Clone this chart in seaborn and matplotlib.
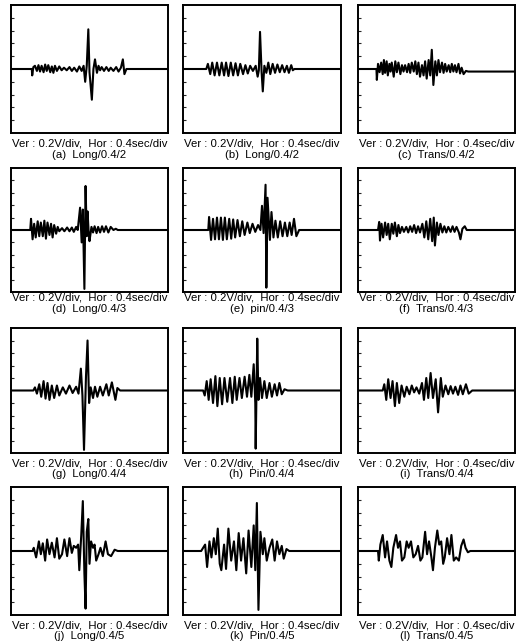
"""
Oscilloscope traces, 12 panels (Long / Pin / Trans, 0.4/2 .. 0.4/5).
Values are read off the scanned figure: time in sec, amplitude in V.
"""

import matplotlib
matplotlib.use("Agg")
import matplotlib.pyplot as plt
import seaborn as sns

W_PX, H_PX = 521, 643
DPI = 100

# ---- traces: (time [s], voltage [V]) at the turning points -------------------
a_t = [0, 0.53, 0.54, 0.57, 0.61, 0.66, 0.70, 0.74, 0.78, 0.83, 0.87, 0.91, 0.95, 1.00, 1.04, 1.08,
       1.12, 1.17, 1.23, 1.29, 1.35, 1.42, 1.49, 1.55, 1.61, 1.68, 1.74, 1.80, 1.85, 1.89, 1.93,
       1.97, 2.00, 2.06, 2.10, 2.14, 2.19, 2.23, 2.27, 2.31, 2.37, 2.43, 2.49, 2.54, 2.61, 2.68,
       2.74, 2.80, 2.85, 2.89, 2.94, 4.0]
a_v = [0, 0, -0.10, 0.03, 0.05, -0.03, 0.06, -0.04, 0.05, -0.05, 0.07, -0.03, 0.06, -0.05, 0.04, -0.06,
       0.05, -0.03, 0.04, -0.02, 0.02, -0.02, 0.03, -0.03, 0.02, -0.04, 0.04, -0.03, 0.05, -0.20, 0.05,
       0.62, -0.05, -0.48, 0.0, 0.15, -0.06, 0.05, -0.02, 0.03, -0.03, 0.03, -0.03, 0.02, -0.03, 0.03,
       -0.04, 0.02, 0.15, -0.08, 0, 0]

b_t = [0, 0.59, 0.63, 0.69, 0.74, 0.80, 0.86, 0.92, 0.98, 1.04, 1.09, 1.15, 1.21, 1.27, 1.33, 1.39,
       1.45, 1.52, 1.58, 1.64, 1.70, 1.77, 1.84, 1.89, 1.92, 1.95, 1.99, 2.02, 2.06, 2.11, 2.16, 2.21,
       2.27, 2.33, 2.39, 2.45, 2.51, 2.57, 2.63, 2.68, 2.74, 2.78, 2.82, 4.0]
b_v = [0, 0, 0.08, -0.08, 0.10, -0.10, 0.10, -0.10, 0.10, -0.10, 0.10, -0.11, 0.10, -0.10, 0.09, -0.10,
       0.08, -0.08, 0.06, -0.07, 0.05, -0.03, 0.05, -0.12, -0.02, 0.58, -0.05, -0.35, 0.05, -0.06, 0.10,
       -0.08, 0.08, -0.06, 0.07, -0.05, 0.06, -0.05, 0.05, -0.06, 0.06, -0.02, 0, 0]

c_t = [0, 0.47, 0.48, 0.51, 0.55, 0.59, 0.63, 0.66, 0.69, 0.73, 0.76, 0.80, 0.83, 0.86, 0.91, 0.95,
       0.99, 1.03, 1.08, 1.12, 1.16, 1.20, 1.25, 1.29, 1.33, 1.37, 1.42, 1.46, 1.50, 1.54, 1.58, 1.63,
       1.67, 1.71, 1.75, 1.80, 1.84, 1.88, 1.92, 1.97, 2.01, 2.05, 2.09, 2.14, 2.18, 2.22, 2.26, 2.31,
       2.35, 2.39, 2.43, 2.47, 2.51, 2.56, 2.60, 2.64, 2.69, 2.75, 2.81, 4.0]
c_v = [0, 0, -0.17, 0.08, -0.05, 0.10, -0.08, 0.14, -0.06, 0.12, -0.10, 0.08, -0.04, 0.10, -0.12, 0.12,
       -0.05, 0.10, -0.08, 0.06, -0.04, 0.06, -0.05, 0.08, -0.06, 0.10, -0.04, 0.12, -0.08, 0.10, -0.12,
       0.06, -0.10, 0.12, -0.15, 0.14, -0.10, 0.30, -0.25, 0.12, -0.10, 0.14, -0.05, 0.10, -0.06, 0.08,
       -0.04, 0.06, -0.05, 0.08, -0.04, 0.06, -0.05, 0.08, -0.07, 0.02, -0.08, -0.03, -0.04, -0.04]

d_t = [0, 0.49, 0.51, 0.55, 0.59, 0.63, 0.68, 0.72, 0.76, 0.81, 0.85, 0.89, 0.93, 0.98, 1.02, 1.06,
       1.10, 1.15, 1.19, 1.23, 1.30, 1.36, 1.43, 1.49, 1.55, 1.60, 1.66, 1.70, 1.76, 1.80, 1.83, 1.87,
       1.90, 1.93, 1.95, 1.98, 2.00, 2.05, 2.09, 2.13, 2.18, 2.22, 2.27, 2.32, 2.37, 2.42, 2.48, 2.54,
       2.61, 2.67, 2.72, 4.0]
d_v = [0, 0, 0.18, -0.15, 0.10, -0.12, 0.14, -0.10, 0.12, -0.10, 0.15, -0.14, 0.12, -0.08, 0.10, -0.12,
       0.08, -0.06, 0.05, -0.02, 0.03, -0.02, 0.04, -0.02, 0.04, -0.03, 0.05, 0.0, 0.36, -0.20, 0.33, -0.95,
       0.71, -0.10, 0.30, -0.05, -0.18, 0.05, -0.04, 0.06, -0.05, 0.05, -0.04, 0.06, -0.03, 0.06, -0.04, 0.05,
       0.0, 0.02, 0, 0]

e_t = [0, 0.64, 0.66, 0.71, 0.76, 0.81, 0.86, 0.91, 0.96, 1.01, 1.06, 1.11, 1.17, 1.22, 1.27, 1.32,
       1.38, 1.44, 1.50, 1.56, 1.63, 1.69, 1.76, 1.83, 1.90, 1.96, 2.00, 2.04, 2.09, 2.11, 2.14, 2.20,
       2.24, 2.29, 2.34, 2.40, 2.46, 2.52, 2.58, 2.64, 2.70, 2.75, 2.81, 2.87, 2.94, 4.0]
e_v = [0, 0, 0.21, -0.16, 0.18, -0.15, 0.20, -0.15, 0.20, -0.16, 0.20, -0.15, 0.18, -0.14, 0.17, -0.12,
       0.16, -0.10, 0.14, -0.08, 0.12, -0.05, 0.10, -0.03, 0.08, 0.0, 0.39, -0.05, 0.73, -0.93, 0.52, -0.16,
       0.29, -0.12, 0.15, -0.12, 0.14, -0.10, 0.12, -0.10, 0.12, -0.08, 0.18, -0.10, 0, 0]

f_t = [0, 0.51, 0.54, 0.56, 0.60, 0.64, 0.69, 0.73, 0.77, 0.81, 0.86, 0.90, 0.94, 0.99, 1.03, 1.07,
       1.12, 1.17, 1.23, 1.28, 1.33, 1.38, 1.43, 1.48, 1.53, 1.58, 1.64, 1.69, 1.74, 1.79, 1.84, 1.89,
       1.93, 1.96, 2.01, 2.05, 2.10, 2.15, 2.20, 2.25, 2.30, 2.36, 2.41, 2.46, 2.51, 2.57, 2.61, 2.66,
       2.72, 2.77, 4.0]
f_v = [0, 0, 0.13, -0.17, 0.10, -0.12, 0.12, -0.08, 0.10, -0.15, 0.10, -0.06, 0.12, -0.10, 0.08, -0.05,
       0.05, -0.03, 0.05, -0.04, 0.06, -0.03, 0.08, -0.05, 0.06, -0.04, 0.10, -0.12, 0.14, -0.15, 0.18, -0.18,
       0.20, -0.25, 0.12, -0.08, 0.10, -0.04, 0.06, -0.04, 0.05, -0.03, 0.06, -0.03, 0.05, -0.04, -0.15, 0.02,
       0.06, 0.0, 0]

g_t = [0, 0.57, 0.61, 0.66, 0.72, 0.77, 0.83, 0.88, 0.93, 0.98, 1.04, 1.10, 1.17, 1.23, 1.32, 1.40,
       1.49, 1.57, 1.66, 1.72, 1.78, 1.82, 1.86, 1.91, 1.95, 1.99, 2.03, 2.09, 2.14, 2.20, 2.27, 2.34,
       2.43, 2.49, 2.57, 2.66, 2.71, 2.78, 4.0]
g_v = [0, 0, 0.05, -0.05, 0.10, -0.10, 0.15, -0.13, 0.12, -0.15, 0.08, -0.12, 0.08, -0.08, 0.05, -0.05,
       0.08, -0.04, 0.06, -0.05, 0.35, -0.08, -0.95, 0.22, 0.80, -0.20, 0.05, -0.12, 0.06, -0.10, 0.06, -0.08,
       0.10, -0.08, 0.13, -0.15, 0.04, 0, 0]

h_t = [0, 0.51, 0.55, 0.60, 0.65, 0.70, 0.76, 0.82, 0.87, 0.93, 0.99, 1.05, 1.12, 1.19, 1.25, 1.31,
       1.36, 1.43, 1.49, 1.56, 1.62, 1.68, 1.73, 1.79, 1.83, 1.84, 1.88, 1.91, 1.95, 2.00, 2.06, 2.12,
       2.19, 2.25, 2.32, 2.38, 2.44, 2.50, 2.57, 2.65, 4.0]
h_v = [0, 0, -0.08, 0.15, -0.15, 0.18, -0.20, 0.23, -0.25, 0.20, -0.22, 0.20, -0.18, 0.20, -0.20, 0.22,
       -0.15, 0.20, -0.12, 0.22, -0.10, 0.25, -0.10, 0.42, -0.20, -0.93, 0.83, -0.15, 0.20, -0.12, 0.15, -0.12,
       0.12, -0.10, 0.10, -0.08, 0.12, -0.06, 0.02, 0, 0]

i_t = [0, 0.63, 0.67, 0.72, 0.77, 0.83, 0.88, 0.94, 0.99, 1.05, 1.11, 1.18, 1.24, 1.31, 1.37, 1.43,
       1.49, 1.56, 1.63, 1.68, 1.74, 1.79, 1.85, 1.91, 1.98, 2.04, 2.11, 2.16, 2.23, 2.30, 2.36, 2.42,
       2.48, 2.55, 2.61, 2.67, 2.75, 2.82, 2.91, 4.0]
i_v = [0, 0, 0.10, -0.15, 0.18, -0.12, 0.15, -0.25, 0.12, -0.20, 0.08, -0.10, 0.06, -0.06, 0.08, -0.03,
       0.05, -0.05, 0.12, -0.15, 0.20, -0.12, 0.28, -0.12, 0.18, -0.35, 0.20, -0.10, 0.08, -0.06, 0.07, -0.05,
       0.06, -0.07, 0.08, -0.06, 0.10, -0.05, 0, 0]

j_t = [0, 0.55, 0.58, 0.64, 0.71, 0.76, 0.81, 0.87, 0.92, 0.98, 1.04, 1.11, 1.17, 1.23, 1.30, 1.36,
       1.43, 1.49, 1.55, 1.60, 1.66, 1.71, 1.74, 1.79, 1.83, 1.87, 1.90, 1.93, 1.97, 2.00, 2.04, 2.09,
       2.13, 2.17, 2.23, 2.28, 2.34, 2.41, 2.47, 2.55, 2.64, 2.72, 4.0]
j_v = [0, 0, 0.05, -0.10, 0.15, -0.05, 0.12, -0.15, 0.18, -0.05, 0.13, -0.10, 0.20, -0.12, -0.05, 0.18,
       -0.08, 0.20, -0.03, 0.08, 0.05, 0.10, -0.30, 0.25, 0.78, -0.35, -0.90, 0.30, 0.50, -0.20, 0.15, 0.05,
       0.10, -0.15, -0.05, 0.05, -0.08, 0.15, -0.05, -0.08, 0.02, 0, 0]

k_t = [0, 0.46, 0.51, 0.56, 0.61, 0.67, 0.72, 0.78, 0.83, 0.88, 0.93, 0.97, 1.04, 1.09, 1.15, 1.22,
       1.29, 1.35, 1.41, 1.47, 1.53, 1.60, 1.66, 1.73, 1.79, 1.83, 1.87, 1.91, 1.96, 2.02, 2.06, 2.12,
       2.19, 2.26, 2.32, 2.38, 2.44, 2.50, 2.55, 2.62, 2.69, 4.0]
k_v = [0, 0, 0.05, 0.10, -0.25, 0.15, -0.10, 0.20, -0.05, 0.35, -0.20, -0.30, 0.10, -0.28, 0.35, -0.15,
       0.15, -0.30, 0.28, -0.15, 0.20, -0.35, 0.32, -0.25, 0.40, -0.30, 0.75, -0.92, 0.30, -0.05, 0.20, -0.15,
       0.05, 0.18, -0.15, 0.15, -0.05, 0.08, -0.12, 0.03, 0, 0]

l_t = [0, 0.51, 0.53, 0.57, 0.63, 0.69, 0.74, 0.80, 0.85, 0.90, 0.97, 1.02, 1.07, 1.12, 1.18, 1.24,
       1.29, 1.35, 1.41, 1.47, 1.53, 1.59, 1.64, 1.71, 1.76, 1.81, 1.87, 1.91, 1.96, 2.02, 2.07, 2.12,
       2.17, 2.21, 2.27, 2.33, 2.38, 2.44, 2.50, 2.57, 2.63, 2.69, 2.74, 2.80, 2.86, 4.0]
l_v = [0, 0, -0.15, 0.10, 0.25, -0.10, 0.15, -0.15, -0.25, 0.05, 0.25, 0.05, 0.15, -0.15, -0.10, 0.15,
       0.05, 0.15, -0.10, -0.05, 0.08, -0.15, -0.10, 0.30, -0.05, 0.15, -0.10, -0.30, 0.05, 0.32, 0.10, 0.15,
       -0.20, -0.10, 0.20, -0.05, 0.25, -0.15, -0.10, -0.15, 0.08, 0.18, 0.05, -0.02, 0, 0]

LABELS = ["(a)  Long/0.4/2", "(b)  Long/0.4/2", "(c)  Trans/0.4/2",
          "(d)  Long/0.4/3", "(e)  pin/0.4/3", "(f)  Trans/0.4/3",
          "(g)  Long/0.4/4", "(h)  Pin/0.4/4", "(i)  Trans/0.4/4",
          "(j)  Long/0.4/5", "(k)  Pin/0.4/5", "(l)  Trans/0.4/5"]
TRACES = [(a_t, a_v), (b_t, b_v), (c_t, c_v),
          (d_t, d_v), (e_t, e_v), (f_t, f_v),
          (g_t, g_v), (h_t, h_v), (i_t, i_v),
          (j_t, j_v), (k_t, k_v), (l_t, l_v)]
SCALE_TXT = "Ver : 0.2V/div,  Hor : 0.4sec/div"

# panel boxes in pixels (left, top, width, height)
COL_X = [11, 183, 358]
COL_W = [157, 158, 157]
ROW_Y = [5, 168, 328, 487]
ROW_H = [128, 124, 125, 128]
CAP_Y = [(143, 155), (298, 309), (464, 474), (625, 636)]

sns.set_style("white")
plt.rcParams["font.family"] = ["Liberation Sans", "DejaVu Sans"]

fig = plt.figure(figsize=(W_PX / DPI, H_PX / DPI), dpi=DPI)

for n, ((t, v), lab) in enumerate(zip(TRACES, LABELS)):
    r, c = divmod(n, 3)
    x0, y0, w, h = COL_X[c], ROW_Y[r], COL_W[c], ROW_H[r]
    ax = fig.add_axes([x0 / W_PX, 1 - (y0 + h) / H_PX, w / W_PX, h / H_PX])
    sns.lineplot(x=t, y=v, ax=ax, color="black", lw=1.5, estimator=None, sort=False)
    ax.set_xlim(0, 4.0)
    ax.set_ylim(-1.0, 1.0)
    ax.set_xticks([])
    ax.set_yticks([-0.8, -0.6, -0.4, -0.2, 0.2, 0.4, 0.6, 0.8])
    ax.tick_params(axis="y", direction="in", length=2, width=0.8, left=True, labelleft=False)
    ax.set_xlabel("")
    ax.set_ylabel("")
    for s in ax.spines.values():
        s.set_color("black")
        s.set_linewidth(1.4)

    cx = (x0 + w / 2) / W_PX
    fig.text(cx, 1 - CAP_Y[r][0] / H_PX, SCALE_TXT, ha="center", va="center",
             fontsize=8.2, color="black")
    fig.text(cx, 1 - CAP_Y[r][1] / H_PX, lab, ha="center", va="center",
             fontsize=8.2, color="black")

fig.savefig("out.png", dpi=DPI, facecolor="white")
